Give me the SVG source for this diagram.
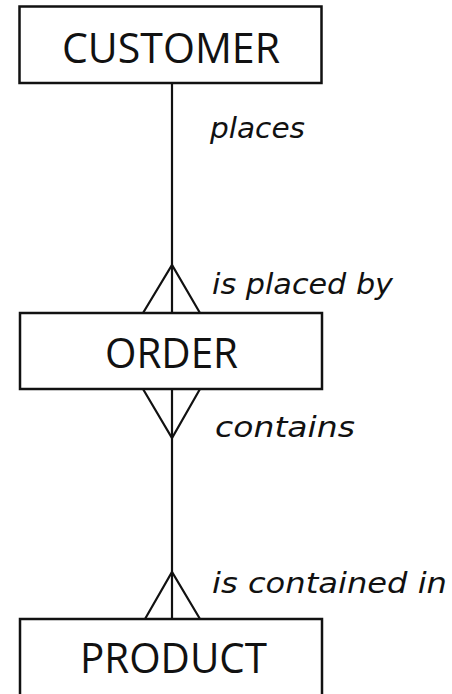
<svg xmlns="http://www.w3.org/2000/svg" width="452" height="694" viewBox="0 0 452 694">
<style>
.box{fill:#fff;stroke:#111;stroke-width:2.5}
.ln{fill:none;stroke:#111;stroke-width:2.2}
.ent{font-family:"Open Sans","Noto Sans",sans-serif;font-size:42px;fill:#111;text-anchor:middle}
.lab{font-family:"DejaVu Sans","Liberation Sans",sans-serif;font-style:italic;font-size:28px;fill:#111}
</style>
<rect width="452" height="694" fill="#fff"/>
<g id="connectors">
<line class="ln" x1="172" y1="83" x2="172" y2="313"/>
<polyline class="ln" points="143,313 172,265 200,313"/>
<line class="ln" x1="172" y1="389" x2="172" y2="619"/>
<polyline class="ln" points="143,389 172,438 200,389"/>
<polyline class="ln" points="145,619 172,572 200,619"/>
<text class="lab" x="210" y="138" textLength="95" lengthAdjust="spacingAndGlyphs">places</text>
<text class="lab" x="212" y="294" textLength="181" lengthAdjust="spacingAndGlyphs">is placed by</text>
<text class="lab" x="215" y="437" textLength="140" lengthAdjust="spacingAndGlyphs">contains</text>
<text class="lab" x="212" y="593" textLength="235" lengthAdjust="spacingAndGlyphs">is contained in</text>
</g>
<g id="customer">
<rect class="box" x="19.5" y="6.5" width="302" height="76.5"/>
<text class="ent" x="171" y="63" textLength="218" lengthAdjust="spacingAndGlyphs">CUSTOMER</text>
</g>
<g id="order">
<rect class="box" x="20" y="313" width="302" height="76"/>
<text class="ent" x="171.5" y="368" textLength="133" lengthAdjust="spacingAndGlyphs">ORDER</text>
</g>
<g id="product">
<rect class="box" x="20" y="619" width="302" height="80"/>
<text class="ent" x="173.5" y="673" textLength="187" lengthAdjust="spacingAndGlyphs">PRODUCT</text>
</g>
</svg>
